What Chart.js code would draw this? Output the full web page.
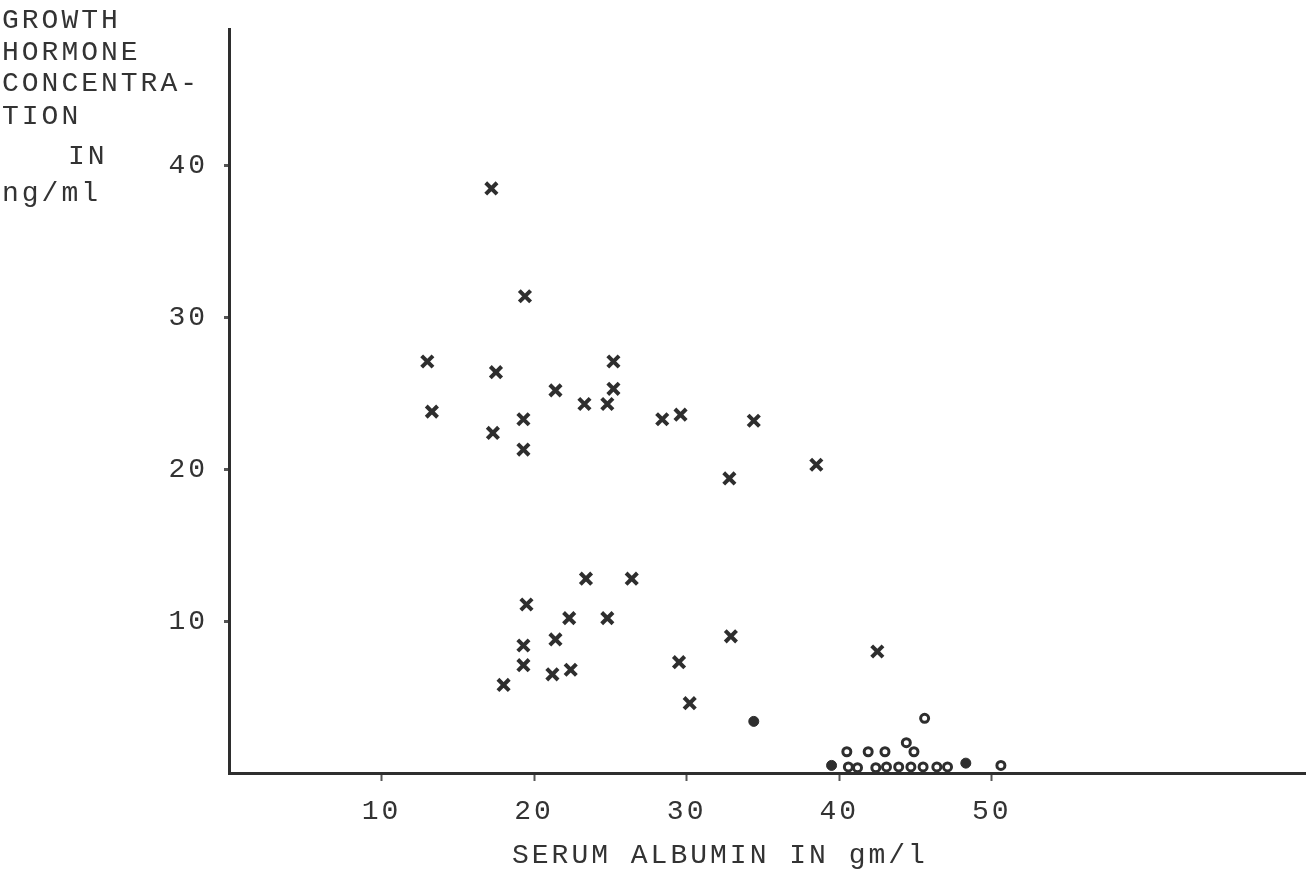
<!DOCTYPE html>
<html>
<head>
<meta charset="utf-8">
<script src="https://cdn.jsdelivr.net/npm/chart.js@4.4.1/dist/chart.umd.min.js"></script>
<style>
  html, body { margin: 0; padding: 0; background: #fff; }
  #wrap { position: relative; width: 1306px; height: 890px; overflow: hidden; }
  #chart { position: absolute; left: 0; top: 0; }
  .lbl {
    position: absolute;
    font-family: "Liberation Mono", "DejaVu Sans Mono", monospace;
    font-size: 28px;
    line-height: 28px;
    letter-spacing: 3px;
    color: #333;
    white-space: pre;
  }
</style>
</head>
<body>
<div id="wrap">
  <canvas id="chart" width="1306" height="890"></canvas>
  <div class="lbl" style="left:2px; top:7px;">GROWTH</div>
  <div class="lbl" style="left:2px; top:39px;">HORMONE</div>
  <div class="lbl" style="left:2px; top:70px;">CONCENTRA-</div>
  <div class="lbl" style="left:2px; top:103px;">TION</div>
  <div class="lbl" style="left:68px; top:143px;">IN</div>
  <div class="lbl" style="left:2px; top:180px;">ng/ml</div>
  <div class="lbl" style="left:512px; top:842px;">SERUM ALBUMIN IN gm/l</div>
</div>
<script>
// 刻度
const xTicks = [10, 20, 30, 40, 50];
const yTicks = [10, 20, 30, 40];

// × 点（血清白蛋白, 生长激素）
const crossX = [17.2, 19.4, 13.0, 17.5, 13.3, 17.3, 19.3, 19.3, 21.4, 23.3, 24.8, 25.2, 25.2, 28.4, 29.6, 34.4, 32.8,
                38.5, 23.4, 26.4, 19.5, 22.3, 24.8, 21.4, 19.3, 19.3, 18.0, 21.2, 22.4, 32.9, 29.5, 30.2, 42.5];
const crossY = [38.5, 31.4, 27.1, 26.4, 23.8, 22.4, 23.3, 21.3, 25.2, 24.3, 24.3, 25.3, 27.1, 23.3, 23.6, 23.2, 19.4,
                20.3, 12.8, 12.8, 11.1, 10.2, 10.2, 8.8, 8.4, 7.1, 5.8, 6.5, 6.8, 9.0, 7.3, 4.6, 8.0];

// ○ 点
const openX = [45.6, 44.4, 44.9, 40.5, 41.9, 43.0, 40.6, 41.2, 42.4, 43.1, 43.9, 44.7, 45.5, 46.4, 47.1, 50.6];
const openY = [3.6, 2.0, 1.4, 1.4, 1.4, 1.4, 0.4, 0.35, 0.35, 0.4, 0.4, 0.4, 0.4, 0.4, 0.4, 0.5];

// ● 点
const filledX = [39.5, 48.3, 34.4];
const filledY = [0.5, 0.65, 3.4];

function toPoints(xs, ys) {
    return xs.map((x, i) => ({ x: x, y: ys[i] }));
}

const ink = '#2e2e2e';
const textColor = '#333';
const tickFont = { family: '"Liberation Mono", "DejaVu Sans Mono", monospace', size: 28 };

// 打字机风格字距
const spacingPlugin = {
    id: 'spacing',
    beforeDraw(chart) {
        chart.ctx.letterSpacing = '3px';
    }
};

new Chart(document.getElementById('chart').getContext('2d'), {
    type: 'scatter',
    data: {
        datasets: [
            {
                data: toPoints(crossX, crossY),
                pointStyle: 'crossRot',
                pointRadius: 8,
                borderColor: ink,
                borderWidth: 4,
                backgroundColor: ink
            },
            {
                data: toPoints(openX, openY),
                pointStyle: 'circle',
                pointRadius: 4,
                borderColor: ink,
                borderWidth: 3,
                backgroundColor: '#ffffff'
            },
            {
                data: toPoints(filledX, filledY),
                pointStyle: 'circle',
                pointRadius: 5,
                borderColor: ink,
                borderWidth: 1,
                backgroundColor: ink
            }
        ]
    },
    options: {
        responsive: false,
        animation: false,
        devicePixelRatio: 1,
        layout: { autoPadding: false, padding: { top: 29, right: 0, left: 0, bottom: 0 } },
        plugins: {
            legend: { display: false },
            tooltip: { enabled: false }
        },
        scales: {
            x: {
                type: 'linear',
                min: 0,
                max: 70.6,
                afterBuildTicks: (scale) => { scale.ticks = xTicks.map(v => ({ value: v })); },
                afterFit: (scale) => {
                    scale.height = 117;
                    scale.paddingLeft = 0;
                    scale.paddingRight = 0;
                },
                border: { display: true, color: ink, width: 3 },
                grid: { drawOnChartArea: false, drawTicks: true, tickLength: 8, tickColor: '#555', tickWidth: 2 },
                ticks: { color: textColor, font: tickFont, padding: 14, maxRotation: 0 }
            },
            y: {
                type: 'linear',
                min: 0,
                max: 49,
                afterBuildTicks: (scale) => { scale.ticks = yTicks.map(v => ({ value: v })); },
                afterFit: (scale) => {
                    scale.width = 229;
                    scale.paddingTop = 0;
                    scale.paddingBottom = 0;
                },
                border: { display: true, color: ink, width: 3 },
                grid: { drawOnChartArea: false, drawTicks: true, tickLength: 5, tickColor: '#555', tickWidth: 3 },
                ticks: { color: textColor, font: tickFont, padding: 16 }
            }
        }
    },
    plugins: [spacingPlugin]
});
</script>
</body>
</html>
